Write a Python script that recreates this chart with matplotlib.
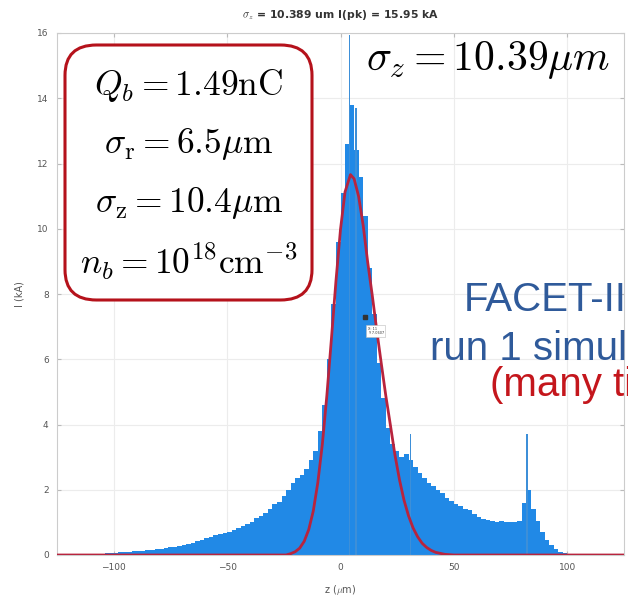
import matplotlib.pyplot as plt
from matplotlib.patches import FancyBboxPatch

plt.rcParams['mathtext.fontset'] = 'cm'

# histogram of the current profile, 2 um bins from -120 to 120
bin_edges = list(range(-120, 121, 2))
current_kA = [
    0, 0, 0.01, 0.01, 0.02, 0.03, 0.03, 0.04, 0.05, 0.06,
    0.07, 0.08, 0.09, 0.10, 0.11, 0.12, 0.13, 0.14, 0.15, 0.17,
    0.19, 0.21, 0.24, 0.26, 0.29, 0.32, 0.35, 0.38, 0.43, 0.47,
    0.52, 0.56, 0.60, 0.65, 0.68, 0.72, 0.78, 0.84, 0.90, 0.95,
    1.00, 1.12, 1.20, 1.30, 1.42, 1.55, 1.62, 1.80, 2.00, 2.20,
    2.35, 2.45, 2.65, 2.90, 3.20, 3.80, 4.60, 6.00, 7.70, 9.60,
    11.1, 12.6, 13.8, 12.4, 11.6, 10.4, 8.8, 7.4, 5.9, 4.8,
    3.9, 3.4, 3.2, 3.0, 3.1, 2.9, 2.7, 2.5, 2.35, 2.2,
    2.1, 2.0, 1.9, 1.75, 1.65, 1.55, 1.5, 1.42, 1.38, 1.25,
    1.15, 1.10, 1.08, 1.05, 1.00, 1.05, 1.00, 1.02, 1.00, 1.05,
    1.6, 2.0, 1.4, 1.05, 0.70, 0.45, 0.30, 0.17, 0.10, 0.06,
    0.04, 0.02, 0.01, 0, 0, 0, 0, 0, 0, 0,
]

# narrow spikes on top of the binned profile
spike_z = [4.0, 6.8, 30.8, 82.3]
spike_kA = [15.95, 13.7, 3.7, 3.7]

# red fit curve
fit_z = [-125, -24, -22, -20, -18, -16, -14, -12, -10, -8, -6, -4, -2, 0, 2, 4.4,
         6, 8, 10, 12, 14, 16, 18, 20, 22, 24, 26, 28, 30, 32, 34, 36, 38, 40,
         42, 44, 46, 50, 125]
fit_kA = [0, 0, 0.04, 0.10, 0.21, 0.42, 0.78, 1.35, 2.22, 3.40, 4.90, 6.63, 8.40,
          9.98, 11.13, 11.66, 11.53, 10.99, 10.10, 8.97, 7.96, 6.88, 5.86, 4.87,
          3.98, 3.07, 2.31, 1.68, 1.20, 0.83, 0.56, 0.36, 0.23, 0.14, 0.08, 0.05,
          0.02, 0, 0]

xticks = [-100, -50, 0, 50, 100]
yticks = list(range(0, 17, 2))

blue = '#2189e6'
red = '#b8243e'

fig = plt.figure(figsize=(6.28, 6.06), dpi=100)
ax = fig.add_axes([57 / 628, 51 / 606, 567 / 628, 522 / 606])

ax.stairs(current_kA, bin_edges, fill=True, color=blue, zorder=2)
ax.bar(spike_z, spike_kA, width=0.7, color='#3d8fd8', zorder=2)
ax.plot(fit_z, fit_kA, color=red, lw=2, zorder=3)

ax.set_xlim(-125, 125)
ax.set_ylim(0, 16)
ax.set_xticks(xticks)
ax.set_yticks(yticks)
ax.grid(True, color='#ececec', lw=0.8, zorder=0)
ax.tick_params(direction='in', top=True, right=True, length=3, color='#bbbbbb',
               labelsize=6.5, labelcolor='#555555', pad=6)
for s in ax.spines.values():
    s.set_color('#cccccc')
ax.set_xlabel(r'z ($\mu$m)', fontsize=7, color='#555555', labelpad=8)
ax.set_ylabel('I (kA)', fontsize=7, color='#555555', labelpad=9)
ax.set_title(r'$\sigma_z$ = 10.389 um I(pk) = 15.95 kA', fontsize=7.8,
             fontweight='bold', color='#333333', pad=11)

# data tip
ax.plot([11], [7.3], 's', ms=2.5, color='#333333', zorder=4)
ax.text(12, 7.0, 'X: 11\nY: 7.0607', fontsize=2.5, color='#333333', va='top',
        zorder=5, bbox=dict(boxstyle='square,pad=0.4', fc='white', ec='#bbbbbb', lw=0.4))

# parameter box
box = FancyBboxPatch((65 / 628, 1 - 300 / 606), 247 / 628, 255 / 606,
                     boxstyle='round,pad=0,rounding_size=0.05',
                     transform=fig.transFigure, fc='white', ec='#b5121b', lw=2.2,
                     zorder=10)
fig.patches.append(box)
lines = [r'$Q_b = 1.49\mathrm{nC}$',
         r'$\sigma_\mathrm{r} = 6.5\mu\mathrm{m}$',
         r'$\sigma_\mathrm{z} = 10.4\mu\mathrm{m}$',
         r'$n_b = 10^{18}\mathrm{cm}^{-3}$']
for i, t in enumerate(lines):
    fig.text(189 / 628, 1 - (86 + 58.5 * i) / 606, t, fontsize=25.5,
             ha='center', va='center', zorder=11)

fig.text(488 / 628, 1 - 60 / 606, r'$\sigma_z = 10.39\mu m$', fontsize=30,
         ha='center', va='center')

slide_font = dict(family='Liberation Sans', fontsize=29, va='baseline')
fig.text(464 / 628, 1 - 311 / 606, 'FACET-II', color='#2f5a9a', **slide_font)
fig.text(430 / 628, 1 - 360 / 606, 'run 1 simulation', color='#2f5a9a', **slide_font)
fig.text(490 / 628, 1 - 396 / 606, '(many times)', color='#c4161c', **slide_font)

fig.savefig('out.png', dpi=100)
